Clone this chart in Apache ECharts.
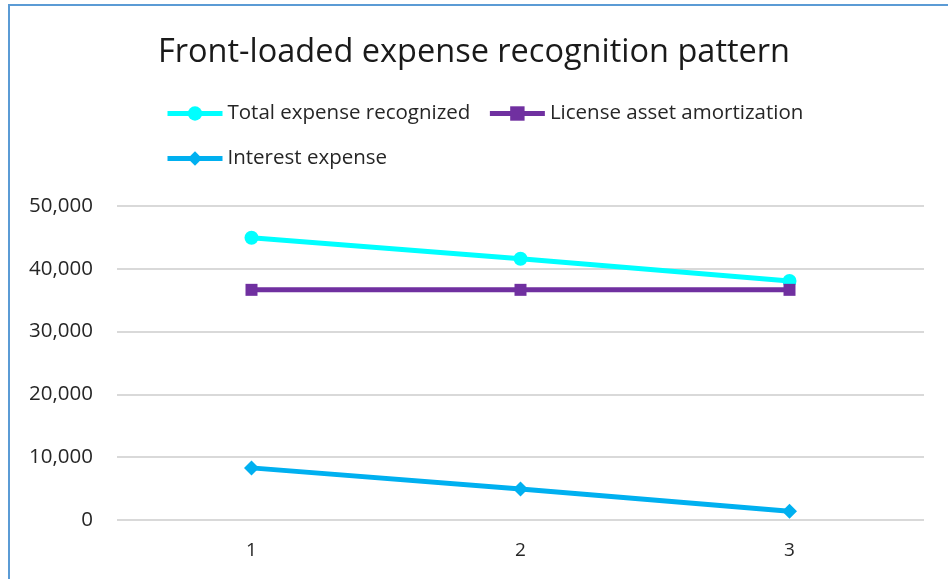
<!DOCTYPE html>
<html>
<head>
<meta charset="utf-8">
<script src="https://cdn.jsdelivr.net/npm/echarts@6/dist/echarts.min.js"></script>
<style>
  html, body { margin: 0; padding: 0; background: #fff; }
  #wrap { position: relative; width: 948px; height: 579px; overflow: hidden; }
  #frame {
    position: absolute; left: 8px; top: 4px; width: 960px; height: 600px;
    border-top: 2px solid #5b9bd5; border-left: 2px solid #5b9bd5;
    box-sizing: border-box; pointer-events: none;
  }
  #main { position: absolute; left: 0; top: 0; width: 948px; height: 579px; }
</style>
</head>
<body>
<div id="wrap">
  <div id="main"></div>
  <div id="frame"></div>
</div>
<script>
  // periods on the x axis
  var periods = ["1", "2", "3"];
  // series values
  var totalExpense = [44950, 41600, 38050];
  var licenseAmort = [36650, 36650, 36650];
  var interestExp = [8300, 4950, 1400];

  var names = ["Total expense recognized", "License asset amortization", "Interest expense"];
  var font = "Open Sans";
  var legendText = { fontFamily: font, fontSize: 20.5, color: "#262626" };

  var myChart = echarts.init(document.getElementById("main"));
  myChart.setOption({
    animation: false,
    title: {
      text: "Front-loaded expense recognition pattern",
      left: "center",
      top: 31,
      textStyle: { fontFamily: font, fontSize: 32.5, fontWeight: "normal", color: "#1a1a1a" }
    },
    legend: [
      {
        data: [names[0], names[1]],
        left: 165,
        top: 103,
        padding: 0,
        itemWidth: 55,
        itemHeight: 18,
        itemGap: 17,
        lineStyle: { width: 5 },
        textStyle: legendText
      },
      {
        data: [names[2]],
        left: 165,
        top: 148,
        padding: 0,
        itemWidth: 55,
        itemHeight: 18,
        lineStyle: { width: 5 },
        textStyle: legendText
      }
    ],
    grid: {
      left: 117,
      right: 24,
      top: 206,
      bottom: 59
    },
    xAxis: {
      type: "category",
      data: periods,
      boundaryGap: true,
      axisLine: { show: false },
      axisTick: { show: false },
      axisLabel: { margin: 21, fontFamily: font, fontSize: 19, color: "#262626" }
    },
    yAxis: {
      type: "value",
      min: 0,
      max: 50000,
      interval: 10000,
      axisLine: { show: false },
      axisTick: { show: false },
      splitLine: { lineStyle: { color: "#d9d9d9", width: 2 } },
      axisLabel: {
        margin: 24,
        fontFamily: font,
        fontSize: 20.5,
        color: "#262626",
        formatter: function (v) { return v.toLocaleString("en-US"); }
      }
    },
    series: [
      {
        name: names[0],
        type: "line",
        data: totalExpense,
        symbol: "circle",
        symbolSize: 14,
        lineStyle: { width: 5, color: "#00ffff" },
        itemStyle: { color: "#00ffff" }
      },
      {
        name: names[1],
        type: "line",
        data: licenseAmort,
        symbol: "rect",
        symbolSize: 12,
        lineStyle: { width: 5, color: "#7030a0" },
        itemStyle: { color: "#7030a0" }
      },
      {
        name: names[2],
        type: "line",
        data: interestExp,
        symbol: "diamond",
        symbolSize: 15,
        lineStyle: { width: 5, color: "#00b0f0" },
        itemStyle: { color: "#00b0f0" }
      }
    ]
  });
</script>
</body>
</html>
